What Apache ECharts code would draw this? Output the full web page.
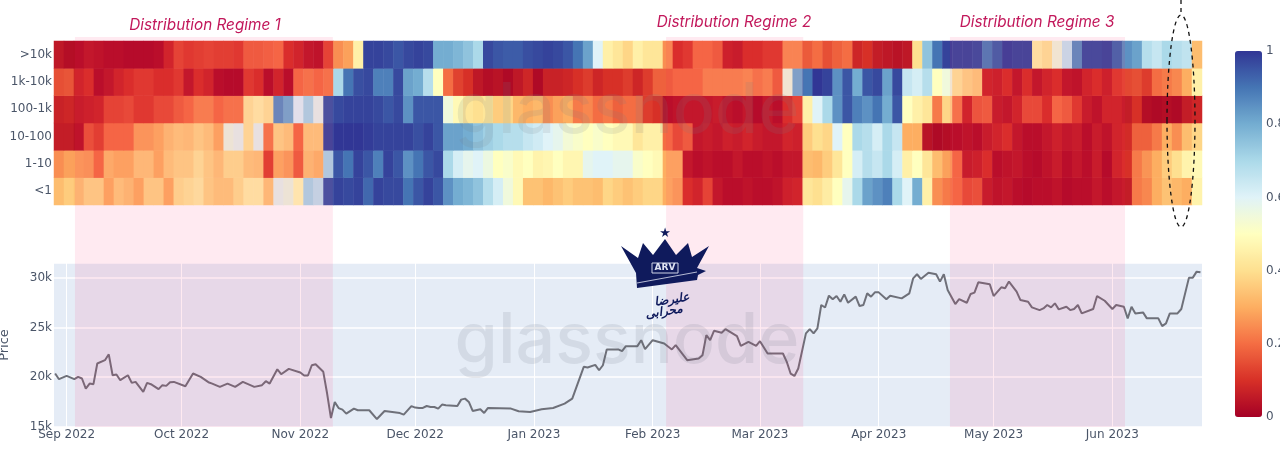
<!DOCTYPE html>
<html>
<head>
<meta charset="utf-8">
<style>html,body{margin:0;padding:0;background:#fff;overflow:hidden}#c{width:1280px;height:457px}</style>
<script src="https://cdn.jsdelivr.net/npm/echarts@6/dist/echarts.min.js"></script>
</head>
<body>
<div id="c"></div>
<script>
const cohorts = ['<1','1-10','10-100','100-1k','1k-10k','>10k'];
const rowGt10k = [
.05,.03,.03,.05,.04,.03,.03,.02,.02,.02,
.03,.08,.14,.12,.13,.14,.13,.13,.12,.18,
.18,.19,.2,.1,.08,.05,.04,.14,.25,.28,
.45,.98,.98,.97,.95,.97,.98,.97,.8,.8,
.78,.75,.7,.97,.95,.94,.94,.96,.97,.98,
.97,.95,.9,.82,.6,.45,.42,.38,.45,.42,
.42,.25,.1,.12,.2,.2,.18,.07,.06,.1,
.1,.12,.12,.25,.25,.17,.2,.15,.18,.2,
.08,.1,.06,.05,.04,.05,.4,.75,.9,.98,
.97,.97,.96,.88,.93,.98,.97,.97,.45,.42,
.55,.65,.85,.96,.96,.97,.92,.85,.82,.68,
.65,.7,.68,.66,.33];
const row1k10k = [
.15,.16,.08,.1,.03,.05,.08,.1,.12,.12,
.1,.1,.12,.05,.1,.08,.03,.02,.02,.12,
.1,.03,.08,.03,.2,.22,.2,.22,.7,.9,
.96,.97,.88,.88,.97,.82,.8,.68,.5,.2,
.13,.1,.05,.03,.04,.02,.05,.08,.02,.07,
.07,.08,.1,.12,.08,.1,.1,.12,.08,.12,
.18,.18,.2,.2,.2,.24,.24,.24,.24,.25,
.22,.24,.18,.55,.8,.9,1,.98,.85,.95,
.8,.95,.97,.82,.97,.65,.62,.68,.5,.55,
.42,.38,.36,.08,.07,.1,.05,.1,.05,.08,
.1,.05,.04,.08,.1,.07,.12,.14,.15,.12,
.2,.22,.24,.3,.45];
const row100to1k = [
.07,.08,.06,.07,.08,.14,.14,.15,.12,.12,
.15,.15,.18,.2,.24,.24,.2,.22,.22,.42,
.45,.42,.85,.8,.6,.7,.58,.95,.97,.98,
.98,.98,.97,.95,.97,.85,.95,.95,.95,.55,
.48,.42,.4,.42,.36,.38,.32,.3,.32,.25,
.28,.3,.22,.24,.2,.22,.18,.2,.2,.12,
.1,.03,.04,.05,.05,.05,.06,.04,.03,.05,
.02,.05,.03,.1,.14,.45,.6,.7,.85,.95,
.88,.85,.9,.8,.95,.5,.45,.42,.22,.38,
.22,.08,.17,.18,.06,.05,.08,.15,.15,.1,
.2,.18,.12,.06,.04,.08,.08,.06,.1,.03,
.02,.03,.02,.06,.08];
const row10to100 = [
.06,.06,.04,.16,.13,.2,.2,.2,.28,.28,
.3,.34,.36,.35,.38,.36,.3,.56,.58,.42,
.58,.22,.38,.36,.2,.36,.36,.97,1,1,
1,.99,.98,.98,.98,.98,.96,.98,.95,.82,
.82,.8,.75,.72,.7,.68,.68,.65,.63,.6,
.58,.54,.52,.5,.52,.5,.48,.48,.42,.45,
.45,.2,.15,.18,.05,.06,.05,.07,.06,.08,
.06,.05,.05,.08,.07,.36,.4,.38,.6,.5,
.7,.68,.62,.7,.65,.3,.3,.04,.02,.03,
.03,.04,.03,.06,.08,.1,.05,.03,.03,.05,
.07,.05,.06,.03,.06,.04,.08,.09,.18,.18,
.22,.3,.25,.33,.38];
const row1to10 = [
.25,.28,.28,.27,.2,.32,.3,.3,.35,.35,
.3,.36,.38,.38,.42,.38,.35,.4,.4,.36,
.35,.13,.3,.28,.18,.34,.32,.7,.95,.9,
.98,.95,.88,.98,.95,.85,.9,.95,.97,.7,
.62,.58,.6,.56,.5,.52,.48,.5,.46,.47,
.5,.47,.47,.58,.6,.6,.58,.58,.52,.5,
.48,.3,.3,.05,.03,.04,.03,.03,.05,.03,
.03,.04,.03,.05,.05,.33,.32,.36,.42,.5,
.62,.68,.65,.7,.62,.45,.5,.42,.33,.28,
.2,.06,.07,.1,.03,.04,.05,.03,.02,.04,
.06,.03,.05,.03,.06,.02,.08,.1,.22,.26,
.3,.36,.4,.46,.48];
const rowLt1 = [
.33,.36,.34,.38,.38,.3,.36,.34,.3,.38,
.38,.3,.4,.42,.44,.38,.36,.36,.4,.45,
.45,.35,.58,.56,.48,.7,.66,.95,.98,.97,
.98,.92,.98,.97,.97,.9,.95,.98,.95,.85,
.8,.78,.75,.68,.62,.55,.48,.34,.34,.32,
.34,.36,.34,.34,.33,.38,.36,.34,.36,.38,
.38,.3,.28,.1,.08,.14,.05,.03,.03,.04,
.03,.03,.04,.07,.08,.42,.4,.44,.5,.58,
.7,.82,.85,.88,.7,.6,.8,.45,.25,.22,
.2,.15,.16,.06,.04,.05,.03,.02,.03,.03,
.04,.02,.03,.03,.05,.03,.05,.06,.22,.24,
.3,.34,.32,.3,.46];
const priceDays = [
-3,-2,0,2,3,4,5,6,7,8,10,11,12,13,14,16,17,18,20,21,22,24,25,26,27,28,31,33,35,37,38,40,42,44,46,49,51,52,53,55,56,58,61,62,63,64,65,67,68,69,70,71,72,73,75,76,79,81,83,87,88,90,91,
92,93,94,95,96,97,98,99,102,103,104,105,106,108,109,110,116,118,121,124,127,130,132,135,136,138,139,140,141,144,145,146,149,150,151,153,156,158,159,162,165,166,167,168,169,171,172,175,176,178,180,181,183,187,188,189,190,191,193,194,195,196,197,198,199,200,201,202,
203,204,206,207,208,209,210,211,212,214,215,218,220,221,222,223,225,227,228,229,230,232,233,235,236,237,238,241,242,244,245,246,248,249,251,252,254,255,256,257,258,259,261,262,263,264,265,268,269,271,273,274,276,277,278,279,281,282,285,286,287,288,290,291,293,294,295,296];
const priceK = [
20.37,19.8,20.13,19.8,20.03,19.87,18.86,19.36,19.3,21.38,21.71,22.3,20.2,20.27,19.7,20.2,19.43,19.53,18.52,19.43,19.3,18.8,19.2,19.13,19.5,19.53,19.09,20.37,20.03,19.5,19.36,19.03,19.36,19.03,19.53,19.03,19.2,19.6,19.36,20.8,20.3,20.84,20.47,20.17,20.17,21.2,21.3,20.54,18.36,15.9,17.5,16.9,16.74,16.34,16.85,16.68,16.68,15.8,16.6,16.4,16.24,17.1,16.95,
16.91,16.91,17.11,17.01,17.01,16.85,17.25,17.18,17.11,17.75,17.85,17.52,16.61,16.78,16.41,16.91,16.85,16.58,16.51,16.78,16.91,17.35,17.85,21.04,20.97,21.24,20.7,21.2,22.79,22.79,22.62,23.12,23.12,23.72,22.82,23.72,23.39,22.79,23.22,21.71,21.88,22.21,24.23,23.72,24.66,24.46,24.83,24.13,23.15,23.56,23.15,23.62,22.38,22.38,21.54,20.37,20.13,20.87,24.4,24.83,24.4,24.9,27.25,27,28.19,27.82,28.15,27.58,
28.32,27.48,28.09,27.15,27.25,28.42,28.09,28.52,28.52,27.82,28.19,27.92,28.42,29.93,30.34,29.87,30.5,30.34,29.6,30.34,28.76,27.35,27.85,27.48,28.36,28.49,29.53,29.33,28.15,29.03,28.93,29.6,28.59,27.75,27.58,27.01,26.74,26.91,27.25,27.01,27.42,26.81,27.08,26.74,26.85,27.25,26.41,26.85,28.15,27.68,26.85,27.25,27.08,25.91,27.08,26.41,26.51,25.91,25.91,25.13,25.4,26.41,26.41,26.85,30,30,30.6,30.54];
const monthStarts = ['2022-09-01','2022-10-01','2022-11-01','2022-12-01','2023-01-01','2023-02-01','2023-03-01','2023-04-01','2023-05-01','2023-06-01'];
const regimeNames = ['Distribution Regime 1','Distribution Regime 2','Distribution Regime 3'];
const regimeStartDays = [2.17,156.5,230.6];
const regimeEndDays = [69.5,192.3,276.3];
const colorbarRange = [0,1];
const colorStops = ['#a50026','#d73027','#f46d43','#fdae61','#fee090','#ffffbf','#e0f3f8','#abd9e9','#74add1','#4575b4','#313695'];

const DAY = 86400000;
const T0 = Date.UTC(2022,8,1);
const axisMin = T0 - 3.3*DAY, axisMax = T0 + 296.4*DAY;
const monthTs = monthStarts.map(s => Date.parse(s+'T00:00:00Z'));
const monthNames = ['Jan','Feb','Mar','Apr','May','Jun','Jul','Aug','Sep','Oct','Nov','Dec'];
const rows = [rowLt1,row1to10,row10to100,row100to1k,row1k10k,rowGt10k];
const columns = rowLt1.map((_,i)=>String(i));
const heat = [];
rows.forEach((r,y)=>r.forEach((v,x)=>heat.push([x,y,v])));
const price = priceDays.map((d,i)=>[T0+d*DAY, priceK[i]]);
const bands = regimeStartDays.map((d,i)=>[T0+d*DAY, T0+regimeEndDays[i]*DAY]);

const F = '"DejaVu Sans"';
const TC = '#4a5568';
const NAVY = '#0f1a5c';
const chart = echarts.init(document.getElementById('c'),null,{renderer:'canvas'});
chart.setOption({
  animation:false,
  backgroundColor:'#fff',
  title: regimeNames.map((t,i)=>({
    text:t,padding:0,
    left:[205,734,1037][i], top:[25,22,22][i], textAlign:'center', textVerticalAlign:'middle',
    textStyle:{fontFamily:'Inter',fontStyle:'italic',fontWeight:'normal',fontSize:15.3,color:'#c2185b'}
  })),
  grid:[
    {left:54,top:41,width:1148,height:164,z:1,outerBoundsMode:'none'},
    {left:54,top:263,width:1148,height:164,show:true,backgroundColor:'#e5ecf6',borderWidth:0,outerBoundsMode:'none'},
    {left:54,top:37,width:1148,height:390,z:5,outerBoundsMode:'none'},
    {left:1235,top:51,width:27,height:366,outerBoundsMode:'none'}
  ],
  xAxis:[
    {gridIndex:0,type:'category',data:columns,show:false},
    {gridIndex:1,type:'value',min:axisMin,max:axisMax,
      axisLine:{show:false},
      axisTick:{show:false,customValues:monthTs},
      splitLine:{show:true,lineStyle:{color:'#fff',width:1}},
      axisLabel:{customValues:monthTs,margin:2,hideOverlap:false,showMinLabel:true,showMaxLabel:true,
        fontFamily:F,fontSize:12,color:TC,
        formatter:v=>{const d=new Date(v);return monthNames[d.getUTCMonth()]+' '+d.getUTCFullYear();}}},
    {gridIndex:2,type:'value',min:axisMin,max:axisMax,show:false},
    {gridIndex:3,type:'value',min:0,max:1,show:false}
  ],
  yAxis:[
    {gridIndex:0,type:'category',data:cohorts,
      axisLine:{show:false},axisTick:{show:false},
      axisLabel:{margin:2,fontFamily:F,fontSize:12,color:TC}},
    {gridIndex:1,type:'value',min:15,max:31.47,interval:5,
      name:'Price',nameLocation:'middle',nameGap:43,nameRotate:90,
      nameTextStyle:{fontFamily:F,fontSize:13,color:TC},
      axisLine:{show:false},axisTick:{show:false},
      splitLine:{show:true,lineStyle:{color:'#fff',width:1.5}},
      axisLabel:{margin:2,fontFamily:F,fontSize:12,color:TC,showMaxLabel:false,formatter:v=>v+'k'}},
    {gridIndex:2,type:'value',min:0,max:1,show:false},
    {gridIndex:3,type:'value',min:0,max:1,interval:0.2,position:'right',
      axisLine:{show:false},axisTick:{show:false},splitLine:{show:false},
      axisLabel:{margin:4,fontFamily:F,fontSize:12,color:TC,formatter:v=>String(+v.toFixed(1))}}
  ],
  visualMap:{type:'continuous',min:0,max:1,seriesIndex:0,calculable:false,show:true,
    left:1235,top:51,itemWidth:27,itemHeight:366,text:['',''],textGap:0,padding:0,
    inRange:{color:colorStops}},
  series:[
    {type:'heatmap',xAxisIndex:0,yAxisIndex:0,data:heat,silent:true,progressive:0,
      itemStyle:{borderWidth:0},emphasis:{disabled:true}},
    {type:'line',xAxisIndex:1,yAxisIndex:1,data:price,showSymbol:false,silent:true,
      lineStyle:{color:'#6e7079',width:2},z:3},
    {type:'custom',xAxisIndex:2,yAxisIndex:2,data:bands,silent:true,z:10,clip:true,
      encode:{x:[0,1]},
      renderItem:(p,api)=>{
        const a=api.coord([api.value(0),1]), b=api.coord([api.value(1),0]);
        return {type:'rect',shape:{x:a[0],y:a[1],width:b[0]-a[0],height:b[1]-a[1]},
          style:{fill:'rgba(255,20,100,0.09)'}};
      }},
    {type:'scatter',xAxisIndex:3,yAxisIndex:3,data:colorbarRange.map(v=>[0.5,v]),symbolSize:0,silent:true}
  ],
  graphic:[
    {type:'text',z:20,silent:true,style:{x:627,y:307,text:'glassnode',textAlign:'center',
      fontFamily:'Inter',fontWeight:500,fontSize:70,fill:'rgba(95,100,115,0.13)'}},
    {type:'text',z:20,silent:true,style:{x:627,y:77,text:'glassnode',textAlign:'center',
      fontFamily:'Inter',fontWeight:500,fontSize:70,fill:'rgba(120,125,135,0.15)'}},
    {type:'ellipse',z:30,silent:true,shape:{cx:1181,cy:121,rx:14,ry:106},
      style:{fill:null,stroke:'#111',lineWidth:1.3,lineDash:[4,4]}},
    {type:'line',z:30,silent:true,shape:{x1:1181,y1:0,x2:1181,y2:15},
      style:{stroke:'#111',lineWidth:1.3,lineDash:[4,4]}},
    {type:'polygon',z:40,silent:true,
      shape:{points:[[621,246],[638,258],[643,243],[653,255],[665,239],[676,255],[688,243],[692,257],[709,246],[697,268],[706,271],[698,275],[697,280],[637,288],[636,273]]},
      style:{fill:NAVY}},
    {type:'text',z:41,silent:true,style:{x:665,y:234,text:'★',textAlign:'center',textVerticalAlign:'middle',fontFamily:F,fontSize:13,fill:NAVY}},
    {type:'rect',z:41,silent:true,shape:{x:652,y:263,width:26,height:10},style:{fill:NAVY,stroke:'#cfd3e6',lineWidth:1}},
    {type:'text',z:42,silent:true,style:{x:665,y:268,text:'ARV',textAlign:'center',textVerticalAlign:'middle',fontFamily:F,fontWeight:'bold',fontSize:9,fill:'#dfe3f2'}},
    {type:'line',z:41,silent:true,shape:{x1:637,y1:283,x2:697,y2:272},style:{stroke:'#dfe3f2',lineWidth:0.8}},
    {type:'text',z:42,silent:true,rotation:0.15,x:672,y:300,style:{x:0,y:0,text:'علیرضا',textAlign:'center',textVerticalAlign:'middle',fontFamily:F,fontStyle:'italic',fontWeight:'bold',fontSize:12,fill:NAVY}},
    {type:'text',z:42,silent:true,rotation:0.15,x:664,y:312,style:{x:0,y:0,text:'محرابی',textAlign:'center',textVerticalAlign:'middle',fontFamily:F,fontStyle:'italic',fontWeight:'bold',fontSize:12,fill:NAVY}}
  ]
});
</script>
</body>
</html>
